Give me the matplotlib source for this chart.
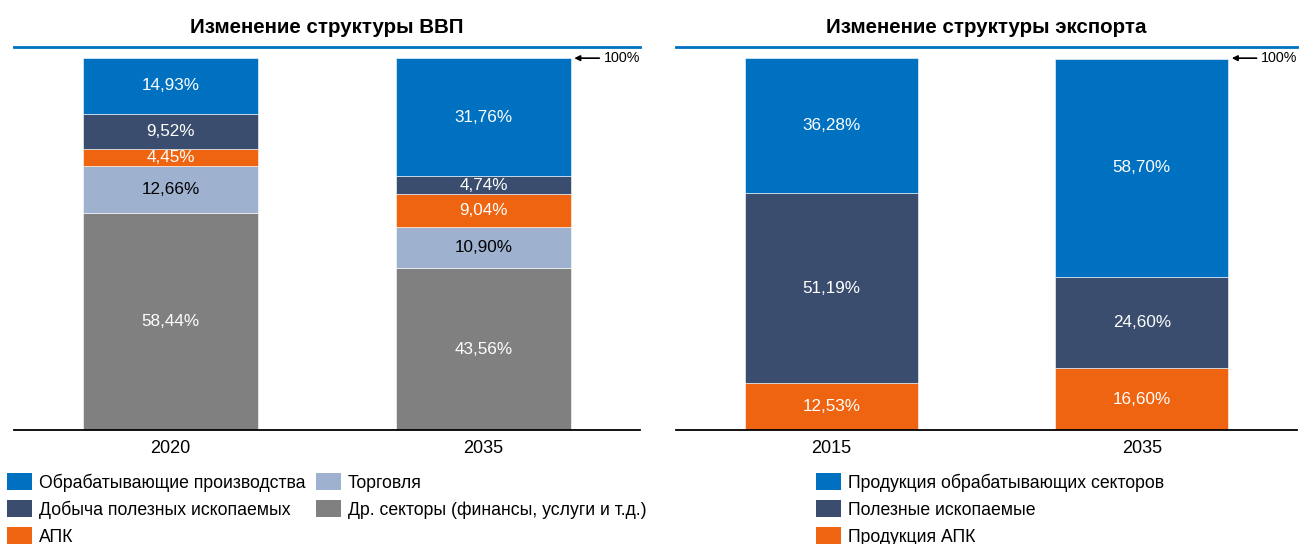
import matplotlib
matplotlib.use("Agg")
import matplotlib.pyplot as plt
from matplotlib.patches import Patch

plt.rcParams['font.family'] = ['Liberation Sans', 'DejaVu Sans']

# GDP structure
gdp_years = ["2020", "2035"]
gdp_sectors = ["Обрабатывающие производства", "Добыча полезных ископаемых", "АПК",
               "Торговля", "Др. секторы (финансы, услуги и т.д.)"]
gdp_manuf = [14.93, 31.76]
gdp_mining = [9.52, 4.74]
gdp_agro = [4.45, 9.04]
gdp_trade = [12.66, 10.90]
gdp_other = [58.44, 43.56]

# Export structure
exp_years = ["2015", "2035"]
exp_sectors = ["Продукция обрабатывающих секторов", "Полезные ископаемые", "Продукция АПК"]
exp_manuf = [36.28, 58.70]
exp_mining = [51.19, 24.60]
exp_agro = [12.53, 16.60]

BLUE = "#0070C0"
NAVY = "#3A4D6E"
ORANGE = "#EE6410"
LIGHT = "#9EB1CF"
GRAY = "#808080"

fig = plt.figure(figsize=(13, 5.44), dpi=100)
ax1 = fig.add_axes([14 / 1300, 1 - 430 / 544, 626 / 1300, 383 / 544])
ax2 = fig.add_axes([676 / 1300, 1 - 430 / 544, 621 / 1300, 383 / 544])


def fmt(v):
    return f"{v:.2f}%".replace(".", ",")


def stacked(ax, years, series, colors, text_colors):
    x = range(len(years))
    bottom = [0.0] * len(years)
    for vals, col, tcol in zip(series, colors, text_colors):
        ax.bar(x, vals, bottom=bottom, width=0.558, color=col,
               edgecolor="white", linewidth=0.4)
        for i, v in enumerate(vals):
            ax.text(i, bottom[i] + v / 2, fmt(v), ha="center", va="center",
                    color=tcol, fontsize=12.3)
        bottom = [b + v for b, v in zip(bottom, vals)]
    ax.set_xlim(-0.5, 1.5)
    ax.set_ylim(0, 103)
    ax.set_xticks(list(x))
    ax.set_xticklabels(years, fontsize=13)
    ax.tick_params(axis="x", length=0, pad=7)
    ax.set_yticks([])
    for s in ("left", "right"):
        ax.spines[s].set_visible(False)
    ax.spines["top"].set_color(BLUE)
    ax.spines["top"].set_linewidth(2)
    ax.spines["bottom"].set_color("black")
    ax.spines["bottom"].set_linewidth(1.3)
    ax.annotate("", xy=(1.29, 100), xytext=(1.37, 100),
                arrowprops=dict(arrowstyle="-|>", color="black", lw=1.2,
                                mutation_scale=8, shrinkA=0, shrinkB=0))
    ax.text(1.385, 100, "100%", ha="left", va="center", fontsize=10.3)


stacked(ax1, gdp_years,
        [gdp_other, gdp_trade, gdp_agro, gdp_mining, gdp_manuf],
        [GRAY, LIGHT, ORANGE, NAVY, BLUE],
        ["white", "black", "white", "white", "white"])
stacked(ax2, exp_years,
        [exp_agro, exp_mining, exp_manuf],
        [ORANGE, NAVY, BLUE],
        ["white", "white", "white"])

ax1.set_title("Изменение структуры ВВП", fontsize=14.8, fontweight="bold", pad=10)
ax2.set_title("Изменение структуры экспорта", fontsize=14.8, fontweight="bold", pad=10)

legend_kw = dict(loc="upper left", frameon=False, fontsize=12.7,
                 handlelength=1.42, handleheight=1.08, handletextpad=0.37,
                 labelspacing=0.48, borderaxespad=0, borderpad=0)

gdp_colors = [BLUE, NAVY, ORANGE, LIGHT, GRAY]
handles1 = [Patch(facecolor=c, label=l) for c, l in zip(gdp_colors, gdp_sectors)]
fig.legend(handles=handles1, bbox_to_anchor=(7 / 1300, 0.1296), ncol=2,
           columnspacing=0.62, **legend_kw)

exp_colors = [BLUE, NAVY, ORANGE]
handles2 = [Patch(facecolor=c, label=l) for c, l in zip(exp_colors, exp_sectors)]
fig.legend(handles=handles2, bbox_to_anchor=(816 / 1300, 0.1296), ncol=1,
           **legend_kw)

fig.savefig("out.png", dpi=100)
